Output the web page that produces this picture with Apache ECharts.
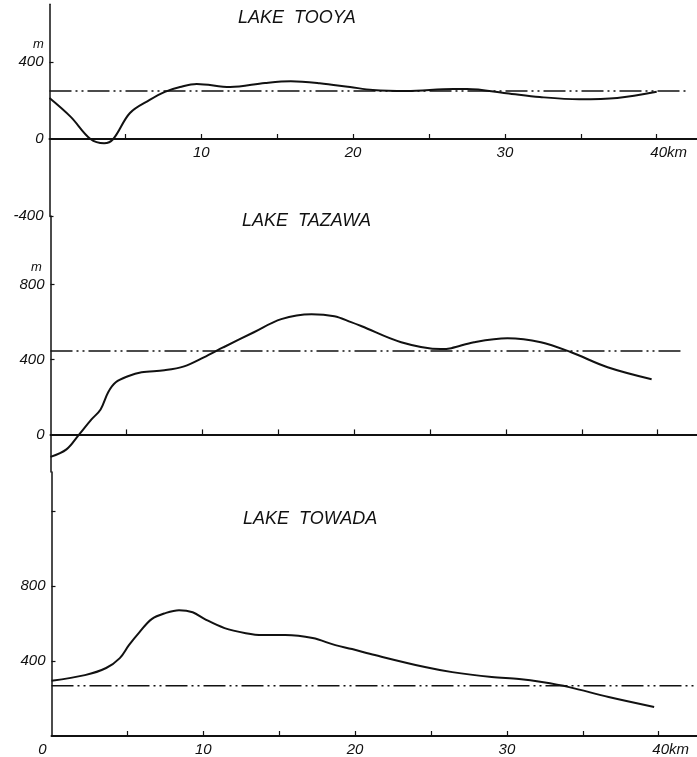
<!DOCTYPE html>
<html>
<head>
<meta charset="utf-8">
<script src="https://cdn.jsdelivr.net/npm/echarts@6/dist/echarts.min.js"></script>
<style>
  body { margin: 0; background: #fff; }
  #chart { width: 697px; height: 757px; }
</style>
</head>
<body>
<div id="chart"></div>
<script>
  // profiles: distance (km) and height (m)
  var tooyaKm = [0, 1.4, 2.7, 3.6, 4.2, 5.3, 6.6, 7.6, 8.6, 9.7, 11.9, 14.2, 15.9, 17.8, 19.8, 21.3, 23.5, 26.6, 27.5, 30.1, 32.3, 34.9, 37.4, 40]
  var tooyaM = [213, 115, 0, -22, 0, 135, 203, 245, 270, 286, 270, 291, 300, 290, 270, 255, 250, 260, 260, 238, 218, 206, 213, 245]
  var tazawaKm = [0, 1.05, 1.84, 2.7, 3.3, 3.8, 4.3, 5.1, 6.0, 7.5, 8.8, 10.1, 11.4, 13.4, 15.2, 17.2, 18.7, 19.8, 20.5, 23.1, 25.7, 26.4, 27.9, 30.1, 32.3, 34.3, 36.7, 39.6]
  var tazawaM = [-120, -80, -5, 80, 133, 225, 278, 310, 331, 342, 363, 411, 465, 545, 615, 641, 630, 599, 577, 492, 455, 460, 492, 513, 492, 438, 358, 294]
  var towadaKm = [0, 2.2, 3.6, 4.5, 5.1, 5.8, 6.6, 7.5, 8.4, 9.3, 10.1, 11.4, 12.8, 13.9, 15.4, 17.2, 18.7, 19.8, 21.3, 24.6, 26.4, 29.0, 30.8, 32.3, 34.1, 36.7, 39.7]
  var towadaM = [295, 325, 363, 416, 485, 555, 624, 656, 672, 661, 624, 576, 549, 539, 539, 523, 485, 464, 432, 368, 341, 315, 304, 288, 261, 208, 155]

  // lake surface levels (m) and how far the dash-dot line runs (km)
  var levelM = [250, 445, 268]
  var levelEndKm = [41.9, 41.5, 42.6]

  var lakeNames = ['LAKE  TOOYA', 'LAKE  TAZAWA', 'LAKE  TOWADA']
  var kmTicks = [5, 10, 15, 20, 25, 30, 35, 40]
  var kmLabels = [[10, 20, 30, 40], [], [0, 10, 20, 30, 40]]
  var mTicks = [[-400, 400], [400, 800], [400, 800, 1200]]
  var mLabels = [[-400, 0, 400], [0, 400, 800], [400, 800]]

  var ink = '#111'
  var font = 'Liberation Sans'

  function pairs (xs, ys) {
    var out = []
    for (var i = 0; i < xs.length; i++) {
      out.push([xs[i], ys[i]])
    }
    return out
  }

  var grids = [
    {left: 49.5, top: 4.25, width: 697 - 49.5, height: 211.75},
    {left: 50.5, top: 216, width: 697 - 50.5, height: 255.9},
    {left: 51.5, top: 471.9, width: 697 - 51.5, height: 264.4}
  ]
  var yRanges = [[-400, 700], [-200, 1165], [0, 1410]]
  var kmPerPx = 1 / 15.18

  var xAxes = []
  var yAxes = []
  var series = []
  for (var g = 0; g < 3; g++) {
    // lift the km axis from the grid bottom up to the 0 m level
    var lift = grids[g].height * (0 - yRanges[g][0]) / (yRanges[g][1] - yRanges[g][0])
    xAxes.push({
      type: 'value',
      gridIndex: g,
      min: 0,
      max: grids[g].width * kmPerPx,
      offset: -lift,
      splitLine: {show: false},
      axisLine: {onZero: false, lineStyle: {color: ink, width: 2}},
      axisTick: {inside: true, length: 5, customValues: kmTicks, lineStyle: {color: ink, width: 1.2}},
      axisLabel: {
        show: kmLabels[g].length > 0,
        customValues: kmLabels[g],
        margin: 6,
        fontFamily: font,
        fontStyle: 'italic',
        fontSize: 15,
        color: ink,
        formatter: function (v) {
          if (v === 40) return '{sp| }40km'
          if (v === 0) return '0{sp2| }'
          return String(v)
        },
        rich: {
          sp: {width: 24},
          sp2: {width: 18}
        }
      }
    })
    yAxes.push({
      type: 'value',
      gridIndex: g,
      min: yRanges[g][0],
      max: yRanges[g][1],
      splitLine: {show: false},
      axisLine: {show: true, onZero: false, lineStyle: {color: ink, width: 1.5}},
      axisTick: {show: true, inside: true, length: 4, customValues: mTicks[g], lineStyle: {color: ink, width: 1.2}},
      axisLabel: {
        customValues: mLabels[g],
        margin: 6,
        fontFamily: font,
        fontStyle: 'italic',
        fontSize: 15,
        color: ink
      }
    })
  }

  var profiles = [pairs(tooyaKm, tooyaM), pairs(tazawaKm, tazawaM), pairs(towadaKm, towadaM)]
  for (g = 0; g < 3; g++) {
    series.push({
      type: 'line',
      xAxisIndex: g,
      yAxisIndex: g,
      data: profiles[g],
      smooth: 0.35,
      symbol: 'none',
      lineStyle: {color: ink, width: 2}
    })
    series.push({
      type: 'line',
      xAxisIndex: g,
      yAxisIndex: g,
      data: [[0, levelM[g]], [levelEndKm[g], levelM[g]]],
      symbol: 'none',
      lineStyle: {color: ink, width: 1.5, type: [22, 4, 2, 4, 2, 4]}
    })
  }

  var titleTops = [9, 212, 510]
  var titleLefts = [238, 242, 243]
  var titles = []
  for (g = 0; g < 3; g++) {
    titles.push({
      text: lakeNames[g],
      left: titleLefts[g],
      top: titleTops[g],
      padding: 0,
      textStyle: {fontFamily: font, fontStyle: 'italic', fontWeight: 'normal', fontSize: 18, color: ink}
    })
  }

  var option = {
    backgroundColor: '#fff',
    animation: false,
    title: titles,
    grid: grids,
    xAxis: xAxes,
    yAxis: yAxes,
    series: series,
    graphic: [
      {type: 'text', left: 33, top: 38, style: {text: 'm', font: 'italic 13px "Liberation Sans"', fill: ink}},
      {type: 'text', left: 31, top: 261, style: {text: 'm', font: 'italic 13px "Liberation Sans"', fill: ink}}
    ]
  }

  var chart = echarts.init(document.getElementById('chart'))
  chart.setOption(option)
</script>
</body>
</html>
